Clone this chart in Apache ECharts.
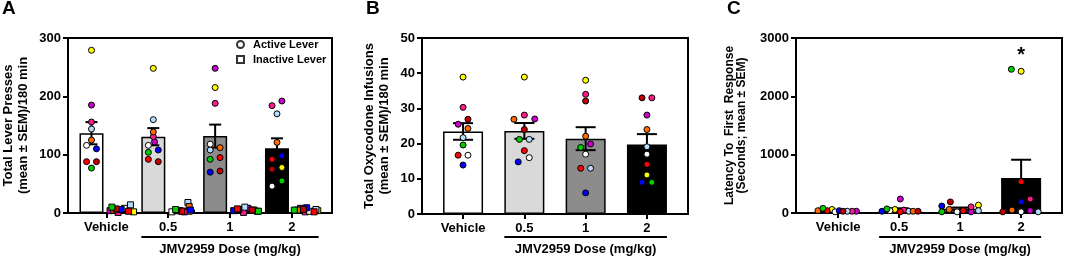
<!DOCTYPE html>
<html><head><meta charset="utf-8">
<script src="https://cdn.jsdelivr.net/npm/echarts@6.0.0/dist/echarts.min.js"></script>
<style>html,body{margin:0;padding:0;background:#fff}#c{width:1065px;height:260px}</style>
</head><body><div id="c"></div>
<script>
// ---------- data ----------
const groups = ['Vehicle', '0.5', '1', '2'];
const barColors = ['#ffffff', '#d9d9d9', '#8c8c8c', '#000000'];
// rat order: yellow, magenta, pink, light blue, orange, white, blue, red, dark red, green
const ratColors = ['#ffff00', '#cc00cc', '#ff1a8c', '#b3dcff', '#ff6a00', '#ffffff', '#0000ff', '#ff0000', '#c00000', '#00cc00'];

// Panel A: lever presses (active / inactive)
const aActive = [
  [279, 185, 156, 144, 125, 116, 110, 88, 88, 77],
  [248, 122, 131, 160, 139, 116, 108, 92, 88, 104],
  [215, 248, 188, 108, 112, 118, 70, 95, 72, 92],
  [78, 192, 184, 170, 121, 46, 98, 92, 75, 55]
];
const aActiveJit = [
  [0, 0, 0, 0, 0, -0.08, 0.08, -0.08, 0.08, 0],
  [0, 0.02, 0, 0, 0, -0.08, 0.08, -0.08, 0.08, -0.08],
  [0, 0, 0, -0.08, 0.08, -0.08, -0.08, 0.08, 0.08, -0.08],
  [0.08, 0.08, -0.08, 0, 0, -0.08, 0.08, -0.08, -0.08, 0.08]
];
const aInactive = [
  [2, 4, 1, 14, 5, 8, 6, 3, 7, 10],
  [3, 4, 2, 18, 11, 2, 5, 3, 4, 6],
  [5, 8, 1, 10, 6, 3, 4, 7, 5, 3],
  [4, 8, 2, 6, 5, 3, 9, 2, 6, 5]
];
const aInactiveJit = [
  [0.2, -0.18, -0.05, 0.15, -0.12, 0.05, 0, 0.12, -0.08, -0.15],
  [0.1, -0.05, 0.02, 0.08, 0.1, -0.18, 0.12, -0.02, -0.1, -0.12],
  [0.15, 0.05, -0.02, 0, -0.1, 0.2, -0.18, -0.12, 0.12, 0.22],
  [0.18, -0.1, -0.02, 0.15, -0.15, 0.05, 0, 0.12, -0.05, -0.2]
];
// Panel B: oxycodone infusions
const bInfusions = [
  [38.9, 25.5, 30.3, 21.7, 24.3, 16.7, 13.9, 16.7, 26.9, 19.6],
  [38.9, 27, 28.1, 21.2, 26.9, 16, 14.8, 18, 24, 21.2],
  [38, 19.9, 34, 13, 22.1, 17, 6, 13, 32.1, 18.9],
  [11.1, 28.1, 33, 19.1, 24, 17, 9, 14.1, 33, 9]
];
const bJit = [
  [0, -0.08, 0, 0, 0.08, 0.08, 0, -0.08, 0.08, 0],
  [0, 0.17, 0, 0.08, -0.17, 0.08, -0.1, 0, 0, -0.08],
  [0, 0.08, 0, 0.08, 0, 0, 0, -0.08, 0, -0.08],
  [0, 0, 0.08, 0, 0, 0, -0.08, 0, -0.08, 0.08]
];
// Panel C: latency to first response (s)
const cLatency = [
  [60, 30, 30, 30, 40, 20, 40, 40, 30, 80],
  [60, 240, 50, 30, 30, 40, 30, 20, 30, 70],
  [135, 20, 105, 40, 60, 20, 120, 40, 190, 20],
  [2430, 40, 240, 20, 50, 20, 193, 536, 20, 2464]
];
const cJit = [
  [-0.1, 0.3, 0.23, 0.15, -0.33, -0.05, 0.02, -0.18, 0.08, -0.25],
  [-0.07, 0.02, 0.08, 0.16, 0.23, -0.15, -0.28, 0.02, 0.31, -0.2],
  [0.3, 0.18, 0.18, 0.3, -0.18, -0.05, -0.3, 0.05, -0.16, -0.3],
  [0, 0.15, 0.15, 0.28, -0.15, 0, 0, 0, -0.3, -0.16]
];
const cStarGroup = 3;

// ---------- helpers ----------
const FONT = '"Liberation Sans", Arial, Helvetica, sans-serif';
function mean(a) { return a.reduce((s, v) => s + v, 0) / a.length; }
function sem(a) {
  const m = mean(a);
  const v = a.reduce((s, x) => s + (x - m) * (x - m), 0) / (a.length - 1);
  return Math.sqrt(v / a.length);
}
function errRender(capHalf) {
  return function (params, api) {
    const x = api.value(0), m = api.value(1), s = api.value(2);
    const top = api.coord([x, m + s]);
    const bot = api.coord([x, Math.max(0, m - s)]);
    const st = { stroke: '#000', lineWidth: 2 };
    return {
      type: 'group', children: [
        { type: 'line', shape: { x1: top[0], y1: top[1], x2: bot[0], y2: bot[1] }, style: st },
        { type: 'line', shape: { x1: top[0] - capHalf, y1: top[1], x2: top[0] + capHalf, y2: top[1] }, style: st },
        { type: 'line', shape: { x1: bot[0] - capHalf, y1: bot[1], x2: bot[0] + capHalf, y2: bot[1] }, style: st }
      ]
    };
  };
}

const grids = [
  { left: 67, top: 38, width: 265, height: 175 },
  { left: 422, top: 38, width: 266, height: 176 },
  { left: 796, top: 38, width: 266, height: 175 }
].map(g => Object.assign({ show: true, borderColor: '#000', borderWidth: 2, backgroundColor: 'transparent' }, g));

const xRanges = [[-0.62, 3.65], [-0.67, 3.67], [-0.69, 3.67]];
const xAxes = xRanges.map((r, i) => ({
  type: 'value', gridIndex: i, min: r[0], max: r[1],
  axisLine: { show: true, onZero: false, lineStyle: { color: '#000', width: 2 } },
  axisTick: { show: true, customValues: [0, 1, 2, 3], length: 5, lineStyle: { color: '#000', width: 2 } },
  axisLabel: { customValues: [0, 1, 2, 3], formatter: v => groups[Math.round(v)], color: '#000', fontWeight: 'bold', fontSize: 13, fontFamily: FONT, margin: 8 },
  splitLine: { show: false }
}));

const yDefs = [
  { max: 300, interval: 100, name: 'Total Lever Presses\n(mean ± SEM)/180 min', gap: 37, fs: 13, lh: 15 },
  { max: 50, interval: 10, name: 'Total Oxycodone Infusions\n(mean ± SEM)/180 min', gap: 30, fs: 13, lh: 15 },
  { max: 3000, interval: 1000, name: 'Latency To  First  Response\n(Seconds; mean ± SEM)', gap: 48, fs: 12, lh: 12 }
];
const yAxes = yDefs.map((d, i) => ({
  type: 'value', gridIndex: i, min: 0, max: d.max, interval: d.interval,
  name: d.name, nameLocation: 'middle', nameGap: d.gap,
  nameTextStyle: { color: '#000', fontWeight: 'bold', fontSize: d.fs, lineHeight: d.lh, fontFamily: FONT },
  axisLine: { show: true, onZero: false, lineStyle: { color: '#000', width: 2 } },
  axisTick: { show: true, length: 5, lineStyle: { color: '#000', width: 2 } },
  axisLabel: { color: '#000', fontWeight: 'bold', fontSize: 13, fontFamily: FONT, margin: 7, formatter: v => String(v) },
  splitLine: { show: false }
}));

const series = [];
function addPanel(gi, sets, barW) {
  const bars = [], errs = [];
  sets.forEach(set => {
    set.vals.forEach((arr, g) => {
      const x = g + set.off;
      bars.push({ value: [x, mean(arr)], itemStyle: { color: barColors[g] } });
      errs.push([x, mean(arr), sem(arr)]);
    });
  });
  series.push({
    type: 'bar', xAxisIndex: gi, yAxisIndex: gi, barWidth: barW, data: bars, z: 2,
    itemStyle: { borderColor: '#000', borderWidth: 1.5 }, animation: false
  });
  series.push({
    type: 'custom', xAxisIndex: gi, yAxisIndex: gi, renderItem: errRender(barW / 4), data: errs, z: 3, animation: false
  });
  sets.forEach(set => {
    const pts = [];
    set.vals.forEach((arr, g) => arr.forEach((v, r) => pts.push([g + set.off + set.jit[g][r], v, r])));
    series.push({
      type: 'scatter', xAxisIndex: gi, yAxisIndex: gi, symbol: set.symbol, symbolSize: 6, data: pts, z: 4,
      itemStyle: { color: p => ratColors[p.data[2]], borderColor: '#000', borderWidth: 1, opacity: 1 }, animation: false
    });
  });
}
addPanel(0, [
  { vals: aActive, jit: aActiveJit, off: -0.24, symbol: 'circle' },
  { vals: aInactive, jit: aInactiveJit, off: 0.24, symbol: 'rect' }
], 24);
addPanel(1, [{ vals: bInfusions, jit: bJit, off: 0, symbol: 'circle' }], 40);
addPanel(2, [{ vals: cLatency, jit: cJit, off: 0, symbol: 'circle' }], 40);

// legend dummy series
series.push({ name: 'Active Lever', type: 'scatter', xAxisIndex: 0, yAxisIndex: 0, data: [], symbol: 'circle', itemStyle: { color: '#fff', borderColor: '#000', borderWidth: 1.5 } });
series.push({ name: 'Inactive Lever', type: 'scatter', xAxisIndex: 0, yAxisIndex: 0, data: [], symbol: 'rect', itemStyle: { color: '#fff', borderColor: '#000', borderWidth: 1.5 } });

const chart = echarts.init(document.getElementById('c'), null, { renderer: 'canvas' });
chart.setOption({
  animation: false,
  textStyle: { fontFamily: FONT },
  title: [
    { text: 'A', left: 2, top: -1, padding: 0 },
    { text: 'B', left: 366, top: -1, padding: 0 },
    { text: 'C', left: 727, top: -1, padding: 0 }
  ].map(t => Object.assign(t, { textStyle: { fontSize: 19, fontWeight: 'bold', color: '#000', fontFamily: FONT } })),
  legend: {
    orient: 'vertical', left: 236, top: 39, padding: 0, itemGap: 4, itemWidth: 7, itemHeight: 7,
    selectedMode: false,
    data: [{ name: 'Active Lever', icon: 'circle' }, { name: 'Inactive Lever', icon: 'rect' }],
    textStyle: { fontSize: 11, fontWeight: 'bold', color: '#000', fontFamily: FONT, padding: [0, 0, 0, 4] }
  },
  grid: grids, xAxis: xAxes, yAxis: yAxes, series: series
});

// dose underline + label, and significance star
const halfW = [[-0.24, 0.24, 12], [0, 0, 20], [0, 0, 20]];
const gfx = [];
halfW.forEach((h, gi) => {
  const l = chart.convertToPixel({ gridIndex: gi }, [1 + h[0], 0])[0] - h[2];
  const r = chart.convertToPixel({ gridIndex: gi }, [3 + h[1], 0])[0] + h[2];
  gfx.push({ type: 'line', shape: { x1: l, y1: 237, x2: r, y2: 237 }, style: { stroke: '#000', lineWidth: 2 } });
  gfx.push({ type: 'text', x: (l + r) / 2, y: 249, style: { text: 'JMV2959 Dose (mg/kg)', fill: '#000', font: 'bold 13px ' + FONT, textAlign: 'center', textVerticalAlign: 'middle' } });
});
const starTop = Math.max(...cLatency[cStarGroup]);
const sp = chart.convertToPixel({ gridIndex: 2 }, [cStarGroup, starTop]);
gfx.push({ type: 'text', x: sp[0], y: sp[1] - 14, style: { text: '*', fill: '#000', font: 'bold 20px ' + FONT, textAlign: 'center', textVerticalAlign: 'middle' } });
chart.setOption({ graphic: gfx });
</script>
</body></html>
